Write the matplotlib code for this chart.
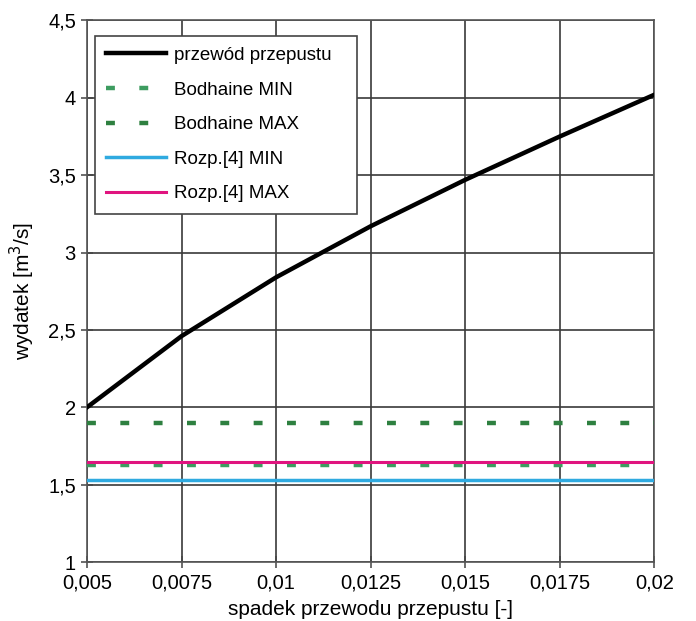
import numpy as np
import matplotlib
matplotlib.use("Agg")
import matplotlib.pyplot as plt
from matplotlib.ticker import FuncFormatter

plt.rcParams['font.family'] = ['Liberation Sans', 'DejaVu Sans']

# dane
spadek = [0.005, 0.0075, 0.01, 0.0125, 0.015, 0.0175, 0.02]
wydatek = [2.0, 2.46, 2.84, 3.17, 3.47, 3.75, 4.02]
bodhaine_min = 1.63
bodhaine_max = 1.90
rozp_min = 1.53
rozp_max = 1.645

fig = plt.figure(figsize=(6.96, 6.21), dpi=100)
ax = fig.add_axes([0.125, 0.095, 0.815, 0.872])

x_rng = [spadek[0], spadek[-1]]
ax.plot(spadek, wydatek, color='black', lw=3.2, label='przewód przepustu', zorder=5)
ax.plot(x_rng, [bodhaine_min] * 2, color='#3d9c60', lw=3.2, ls=(0, (2, 5.5)),
        label='Bodhaine MIN', zorder=4)
ax.plot(x_rng, [bodhaine_max] * 2, color='#2e8040', lw=3.2, ls=(0, (2, 5.5)),
        label='Bodhaine MAX', zorder=4)
ax.plot(x_rng, [rozp_min] * 2, color='#2faae0', lw=2.5, label='Rozp.[4] MIN', zorder=4)
ax.plot(x_rng, [rozp_max] * 2, color='#e0147f', lw=2.2, label='Rozp.[4] MAX', zorder=4)

ax.set_xlim(0.005, 0.02)
ax.set_ylim(1, 4.5)
ax.set_xticks(spadek)
ax.set_yticks(np.arange(1, 4.51, 0.5))

fmt = FuncFormatter(lambda v, p: ('%g' % v).replace('.', ','))
ax.xaxis.set_major_formatter(fmt)
ax.yaxis.set_major_formatter(fmt)

ax.grid(True, color='#3a3a3a', lw=1.2)
ax.set_axisbelow(True)
for s in ax.spines.values():
    s.set_color('#555555')
    s.set_linewidth(1.2)
ax.tick_params(direction='inout', length=8, width=1.1, color='#444444',
               labelsize=14.5, pad=4)

ax.set_xlabel('spadek przewodu przepustu [-]', fontsize=15, labelpad=6)
ax.set_ylabel('wydatek [m$^3$/s]', fontsize=15, labelpad=8)

leg = ax.legend(loc='upper left', fontsize=13.5, handlelength=3.2, handletextpad=0.4,
                labelspacing=0.93, borderpad=0.6, borderaxespad=0, fancybox=False,
                framealpha=1, edgecolor='#444444', mode='expand',
                bbox_to_anchor=(0.014, 0.0, 0.462, 0.972))
leg.get_frame().set_linewidth(1.2)

fig.savefig('out.png', dpi=100)
